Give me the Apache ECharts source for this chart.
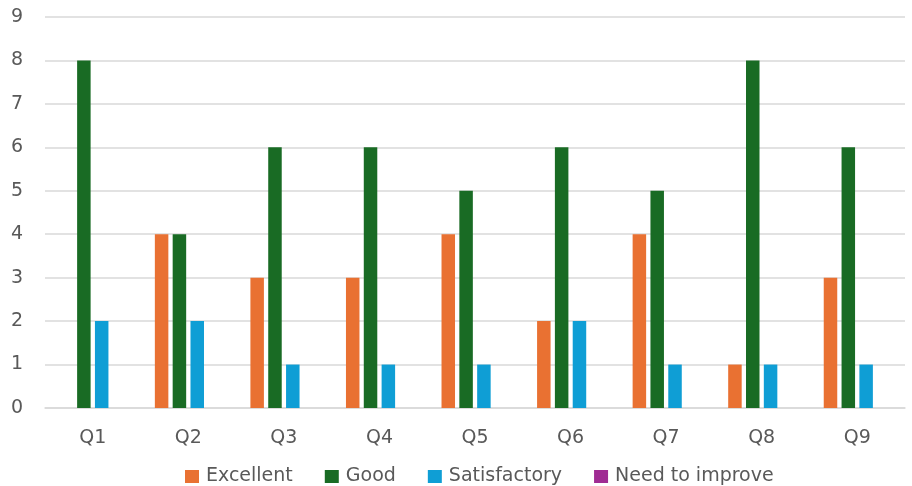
<!DOCTYPE html>
<html><head><meta charset="utf-8">
<script src="https://cdn.jsdelivr.net/npm/echarts@6/dist/echarts.min.js"></script>
<style>html,body{margin:0;padding:0;background:#fff}#c{width:912px;height:486px}</style>
</head><body><div id="c"></div>
<script>
const categories = ['Q1','Q2','Q3','Q4','Q5','Q6','Q7','Q8','Q9'];
const excellent = [0,4,3,3,4,2,4,1,3];
const good = [8,4,6,6,5,6,5,8,6];
const satisfactory = [2,2,1,1,1,2,1,1,1];
const needToImprove = [0,0,0,0,0,0,0,0,0];
const seriesNames = ['Excellent','Good','Satisfactory','Need to improve'];
const colors = ['#E97132','#196B24','#0F9ED5','#A02B93'];
const font = 'DejaVu Sans, sans-serif';
const chart = echarts.init(document.getElementById('c'), null, {renderer:'canvas'});
const mk = (name, data, i) => ({
  name, type:'bar', data, barWidth:13.5, barGap:'32%',
  itemStyle:{color:colors[i]},
  emphasis:{disabled:true}
});
chart.setOption({
  animation:false,
  color:colors,
  grid:{left:45, right:7, top:17, bottom:78},
  legend:{top:462, left:180, itemWidth:14, itemHeight:13, itemGap:32,
    icon:'rect', textStyle:{color:'#595959', fontSize:19, fontFamily:font, padding:[0,0,0,2]},
    data:seriesNames},
  xAxis:{type:'category', data:categories,
    axisLine:{lineStyle:{color:'#d9d9d9', width:1.5}}, axisTick:{show:false},
    axisLabel:{color:'#595959', fontSize:19, fontFamily:font, margin:21}},
  yAxis:{type:'value', min:0, max:9, interval:1,
    axisLine:{show:false}, axisTick:{show:false},
    splitLine:{lineStyle:{color:'#d9d9d9', width:1.5}},
    axisLabel:{color:'#595959', fontSize:19, fontFamily:font, margin:22}},
  series:[mk(seriesNames[0],excellent,0), mk(seriesNames[1],good,1), mk(seriesNames[2],satisfactory,2), mk(seriesNames[3],needToImprove,3)]
});
</script></body></html>
